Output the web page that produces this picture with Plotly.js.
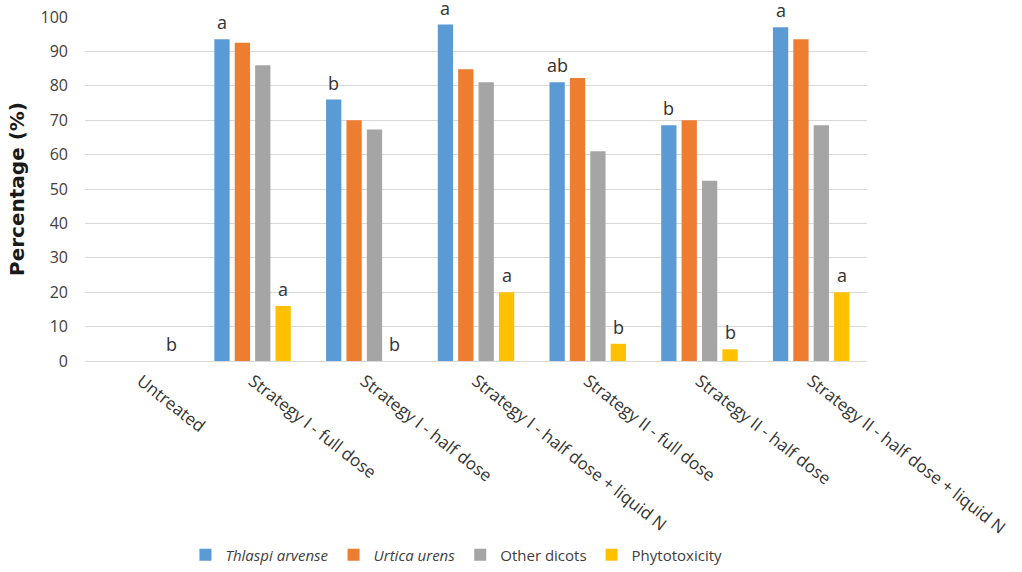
<!DOCTYPE html>
<html>
<head>
<meta charset="utf-8">
<script src="https://cdn.plot.ly/plotly-3.0.1.min.js"></script>
<style>html,body{margin:0;padding:0;background:#fff;}#chart{width:1022px;height:572px;}</style>
</head>
<body>
<div id="chart"></div>
<script>
const categories = ["Untreated", "Strategy I - full dose", "Strategy I - half dose", "Strategy I - half dose + liquid N", "Strategy II - full dose", "Strategy II - half dose", "Strategy II - half dose + liquid N"];
const thlaspi = [0, 93.5, 76, 97.8, 81, 68.5, 97];
const urtica = [0, 92.5, 70, 84.8, 82.3, 70, 93.5];
const otherDicots = [0, 86, 67.3, 81, 61, 52.4, 68.5];
const phytotoxicity = [0, 16, 0, 20, 5, 3.4, 20];
const thlaspiLetters = ["", "a", "b", "a", "ab", "b", "a"];
const phytoLetters = ["b", "a", "b", "a", "b", "b", "a"];

const seriesNames = ["<i>Thlaspi arvense</i>", "<i>Urtica urens</i>", "Other dicots", "Phytotoxicity"];
const seriesValues = [thlaspi, urtica, otherDicots, phytotoxicity];
const colors = ["#5B9BD5", "#ED7D31", "#A5A5A5", "#FFC000"];

const bargap = 0.27;
const traces = seriesValues.map((vals, i) => ({
  type: "bar",
  name: seriesNames[i],
  x: categories,
  y: vals,
  marker: {color: colors[i]},
  hoverinfo: "x+y"
}));

// letter annotations above the first and last bar of each group
const slot = (1 - bargap) / seriesValues.length;
const annotations = [];
function addLetters(letters, vals, seriesIdx) {
  const off = (seriesIdx - (seriesValues.length - 1) / 2) * slot;
  letters.forEach((t, k) => {
    if (!t) return;
    annotations.push({
      x: k + off, y: vals[k], xref: "x", yref: "y",
      text: t, showarrow: false, yanchor: "bottom", yshift: 3,
      font: {family: "Open Sans", size: 18, color: "#333333"}
    });
  });
}
addLetters(thlaspiLetters, thlaspi, 0);
addLetters(phytoLetters, phytotoxicity, 3);

const layout = {
  width: 1022, height: 572,
  margin: {l: 85, r: 155, t: 17, b: 211, autoexpand: false},
  paper_bgcolor: "#ffffff", plot_bgcolor: "#ffffff",
  barmode: "group", bargap: bargap, bargroupgap: 0.25,
  showlegend: true,
  legend: {
    orientation: "h", x: 0.475, xanchor: "center", y: -0.564, yanchor: "middle",
    font: {family: "Open Sans", size: 15, color: "#404040"},
    itemwidth: 30, traceorder: "normal"
  },
  xaxis: {
    type: "category", tickangle: 38, showgrid: false, showline: false, ticks: "",
    tickfont: {family: "Open Sans", size: 17, color: "#333333"},
    ticklabelstandoff: 6, automargin: false
  },
  yaxis: {
    range: [0, 100], dtick: 10, tick0: 0, showgrid: true, gridcolor: "#D9D9D9", gridwidth: 1,
    zeroline: true, zerolinecolor: "#D9D9D9", zerolinewidth: 1, showline: false, ticks: "",
    tickfont: {family: "Open Sans", size: 16, color: "#404040"},
    ticklabelstandoff: 16, automargin: false,
    title: {text: "Percentage (%)", font: {family: "DejaVu Sans", size: 20, color: "#1a1a1a", weight: "bold"}, standoff: 10}
  },
  annotations: annotations
};

Plotly.newPlot("chart", traces, layout, {displayModeBar: false, staticPlot: true});
</script>
</body>
</html>
